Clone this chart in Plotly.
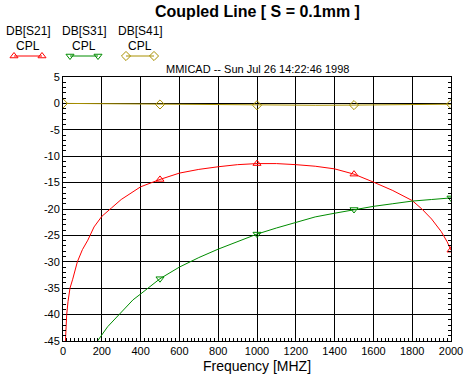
import plotly.graph_objects as go

# ---------------- data ----------------
freq_s21 = [10, 12, 15, 19, 26, 36, 50, 74, 100, 128, 160, 200, 250, 300, 400, 500,
            600, 700, 800, 900, 1000, 1100, 1200, 1300, 1400, 1500, 1600, 1700,
            1800, 1850, 1900, 1950, 1980, 2000]
s21 = [-47, -45, -42.5, -40, -37.5, -35, -33.3, -30, -27.7, -25.9, -23.4, -21.4, -19.8,
       -18.2, -15.8, -14.4, -13.2, -12.5, -12.0, -11.6, -11.4, -11.4, -11.6, -11.9,
       -12.4, -13.4, -14.9, -16.5, -18.4, -20.0, -21.9, -24.3, -26.2, -27.8]

freq_s31 = [170, 178, 230, 288, 361, 400, 439, 500, 600, 700, 800, 900, 1000, 1100,
            1200, 1300, 1400, 1500, 1600, 1700, 1800, 1900, 2000]
s31 = [-46, -45, -42.3, -40, -37.2, -36.1, -35.0, -33.2, -31.0, -29.2, -27.6, -26.1,
       -24.75, -23.6, -22.5, -21.5, -20.8, -20.1, -19.5, -19.0, -18.5, -18.2, -17.9]

freq_s41 = [0, 200, 400, 500, 700, 1000, 1300, 1500, 1700, 2000]
s41 = [0.0, -0.05, -0.15, -0.2, -0.28, -0.35, -0.35, -0.32, -0.2, -0.15]

marker_freqs = [0, 500, 1000, 1500, 2000]

x_ticks = list(range(0, 2001, 200))
y_ticks = list(range(-45, 6, 5))

series = [
    ("DB[S21]", "CPL", freq_s21, s21, "#FF0000", "triangle-up-open"),
    ("DB[S31]", "CPL", freq_s31, s31, "#008C00", "triangle-down-open"),
    ("DB[S41]", "CPL", freq_s41, s41, "#A89000", "diamond-open"),
]

FONT = "Arial, Liberation Sans, sans-serif"

fig = go.Figure()

for name, sub, fx, fy, col, sym in series:
    fig.add_trace(go.Scatter(x=fx, y=fy, mode="lines", line=dict(color=col, width=1),
                             showlegend=False, hoverinfo="skip"))
    mx = [f for f in marker_freqs if f in fx]
    my = [fy[fx.index(f)] for f in mx]
    fig.add_trace(go.Scatter(x=mx, y=my, mode="markers",
                             marker=dict(symbol=sym, size=7, color=col,
                                         line=dict(color=col, width=1)),
                             showlegend=False, hoverinfo="skip"))

leg_centers = [28, 84, 140]
annotations = []
for (name, sub, fx, fy, col, sym), cx in zip(series, leg_centers):
    fig.add_trace(go.Scatter(x=[cx - 14, cx + 14], y=[56, 56], mode="lines+markers",
                             xaxis="x2", yaxis="y2",
                             line=dict(color=col, width=1),
                             marker=dict(symbol=sym, size=7, color=col,
                                         line=dict(color=col, width=1)),
                             showlegend=False, hoverinfo="skip", cliponaxis=False))
    annotations.append(dict(x=cx, y=31, xref="x2", yref="y2", text=name, showarrow=False,
                            font=dict(family=FONT, size=12, color="black")))
    annotations.append(dict(x=cx, y=45.5, xref="x2", yref="y2", text=sub, showarrow=False,
                            font=dict(family=FONT, size=12, color="black")))

annotations.append(dict(x=257, y=11, xref="x2", yref="y2",
                        text="<b>Coupled Line [ S = 0.1mm ]</b>", showarrow=False,
                        font=dict(family=FONT, size=16, color="black")))
annotations.append(dict(x=257, y=68.5, xref="x2", yref="y2",
                        text="MMICAD -- Sun Jul 26 14:22:46 1998", showarrow=False,
                        font=dict(family=FONT, size=11, color="black")))

fig.update_layout(
    width=467, height=376,
    margin=dict(l=0, r=16, t=0, b=35, pad=0, autoexpand=False),
    paper_bgcolor="white", plot_bgcolor="rgba(0,0,0,0)",
    font=dict(family=FONT, color="black"),
    annotations=annotations,
    xaxis=dict(domain=[63 / 451, 1], range=[0, 2000], tickvals=x_ticks,
               ticktext=[str(v) for v in x_ticks], tickfont=dict(size=11),
               showgrid=True, gridcolor="black", gridwidth=1, zeroline=False,
               showline=True, linecolor="black", linewidth=1, mirror=True,
               ticks="inside", ticklen=3, tickcolor="black", automargin=False,
               minor=dict(dtick=20, tick0=0, ticks="inside", ticklen=3,
                          tickcolor="black", showgrid=False),
               title=dict(text="Frequency [MHZ]", font=dict(size=14), standoff=4)),
    yaxis=dict(domain=[0, 264 / 341], range=[-45, 5], tickvals=y_ticks,
               ticktext=[str(v) for v in y_ticks], tickfont=dict(size=11),
               showgrid=True, gridcolor="black", gridwidth=1, zeroline=False,
               showline=True, linecolor="black", linewidth=1, mirror="allticks",
               ticks="inside", ticklen=3, tickcolor="black", automargin=False,
               minor=dict(dtick=1, tick0=0, ticks="inside", ticklen=3,
                          tickcolor="black", showgrid=False)),
    xaxis2=dict(domain=[0, 1], range=[0, 451], anchor="y2", visible=False),
    yaxis2=dict(domain=[0, 1], range=[341, 0], anchor="x2", visible=False),
)

fig.write_html("out.html")
